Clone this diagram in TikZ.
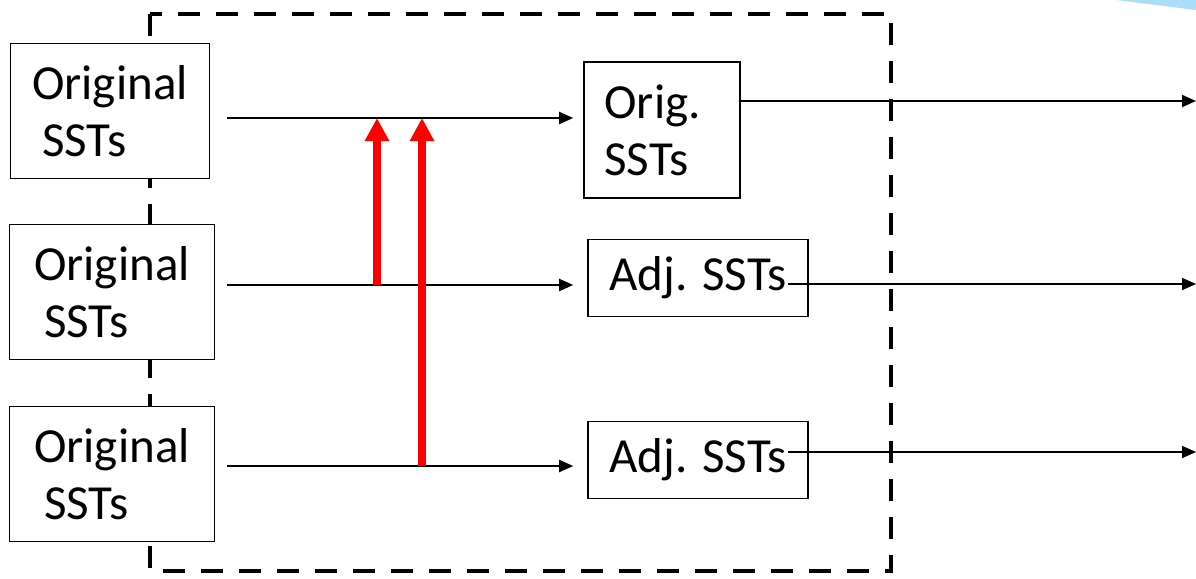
\documentclass[tikz,border=0pt]{standalone}
\usepackage{fontspec}
\setmainfont{Carlito}
\usetikzlibrary{arrows.meta}
\definecolor{skyband}{HTML}{A9DDF8}

\begin{document}
\begin{tikzpicture}[x=1pt, y=-1pt,
          box/.style={draw, fill=white, line width=1.6pt, align=left,
                      font=\fontsize{49}{57}\selectfont},
          srcbox/.style={box, minimum width=205pt, minimum height=135pt},
          adjbox/.style={box, minimum width=220pt, minimum height=77pt},
          flow/.style={-{Triangle[length=14pt, width=12pt]}, line width=2pt},
          inject/.style={-{Triangle[length=23pt, width=23pt]}, line width=8pt, red},
          group/.style={line width=4pt, dash pattern=on 22pt off 16pt}
        ]
        \useasboundingbox (0,0) rectangle (1196,578);
        % Fixed-coordinate geometry, 1pt = 1px of the 1196x578 layout.
        \fill[skyband] (1117,0) -- (1196,0) -- (1196,10) -- cycle;
        \draw[group] (150,14) rectangle (891,571);

        \node[srcbox, minimum width=199pt] (src1) at (110,111) {Original\\\hspace*{10pt}SSTs};
        \node[srcbox] (src2) at (112,292) {Original\\\hspace*{10pt}SSTs};
        \node[srcbox] (src3) at (112,474) {Original\\\hspace*{10pt}SSTs};

        \node[box, minimum width=156pt, minimum height=136pt,
              text width=115pt, inner xsep=20pt] (orig) at (662,130) {Orig.\\SSTs};
        \node[adjbox] (adj2) at (698,278) {Adj. SSTs};
        \node[adjbox] (adj3) at (698,460) {Adj. SSTs};

        % start and end points of the connectors
        \coordinate (s1) at (227,118);
        \coordinate (s2) at (227,285);
        \coordinate (s3) at (227,466);
        \coordinate (a2) at (788,284);
        \coordinate (a3) at (788,452);
        \coordinate (t1) at (1196,101);
        \coordinate (t2) at (1196,284);
        \coordinate (t3) at (1196,452);
        \coordinate (r1) at (377,285);
        \coordinate (r2) at (422,466);

        \draw[flow] (s1) -- ([xshift=-10pt]orig.west |- s1);
        \draw[flow] (s2) -- ([xshift=-14pt]adj2.west |- s2);
        \draw[flow] (s3) -- ([xshift=-14pt]adj3.west |- s3);

        \draw[flow] (orig.east |- t1) -- (t1);
        \draw[flow] (a2) -- (t2);
        \draw[flow] (a3) -- (t3);

        \draw[inject] (r1) -- (r1 |- s1);
        \draw[inject] (r2) -- (r2 |- s1);
      \end{tikzpicture}
\end{document}
